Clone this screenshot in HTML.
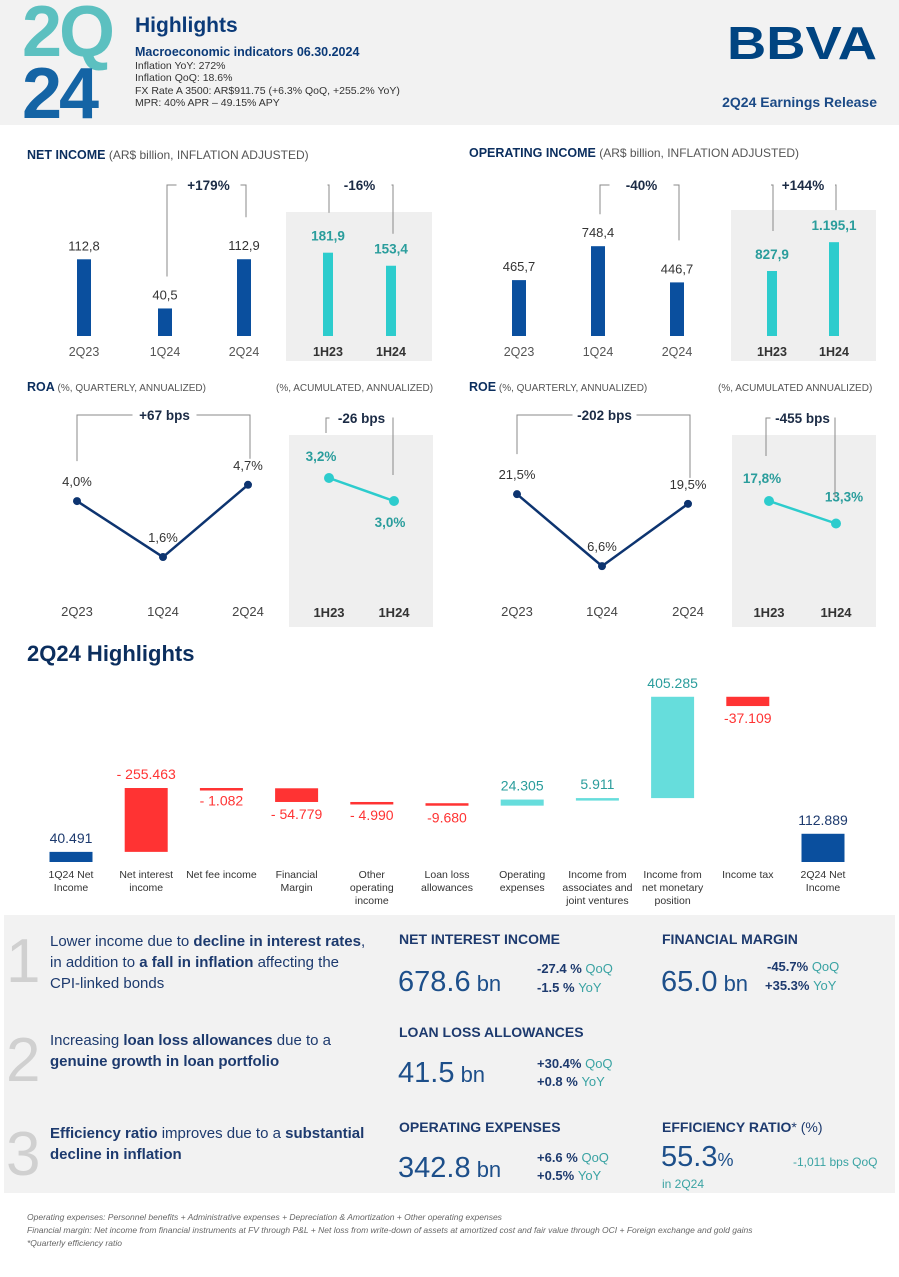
<!DOCTYPE html>
<html><head><meta charset="utf-8"><style>
html,body{margin:0;padding:0;background:#fff}
svg{display:block;font-family:"Liberation Sans",sans-serif}
</style></head><body>
<svg id="s" width="899" height="1277" viewBox="0 0 899 1277" xmlns="http://www.w3.org/2000/svg">
<rect x="0" y="0" width="899" height="125" fill="#f2f2f2"/>
<text x="22" y="56" font-size="72" font-weight="bold" fill="#5cc0c0" letter-spacing="-3">2Q</text>
<text x="22" y="118" font-size="72" font-weight="bold" fill="#1464a5" letter-spacing="-3">24</text>
<text x="135" y="32" font-size="21" font-weight="bold" fill="#0b3a78">Highlights</text>
<text x="135" y="56" font-size="12.5" font-weight="bold" fill="#0b3a78">Macroeconomic indicators 06.30.2024</text>
<g font-size="10.5" fill="#333">
<text x="135" y="69">Inflation YoY: 272%</text>
<text x="135" y="81">Inflation QoQ: 18.6%</text>
<text x="135" y="94">FX Rate A 3500: AR$911.75 (+6.3% QoQ, +255.2% YoY)</text>
<text x="135" y="106">MPR: 40% APR – 49.15% APY</text>
</g>
<text x="727" y="59" font-size="46" font-weight="bold" fill="#004481" textLength="150" lengthAdjust="spacingAndGlyphs">BBVA</text>
<text x="877" y="107" font-size="14" font-weight="bold" fill="#1b4a86" text-anchor="end">2Q24 Earnings Release</text>

<rect x="286" y="212" width="146" height="149" fill="#efefef"/>
<rect x="731" y="210" width="145" height="151" fill="#efefef"/>
<rect x="289" y="435" width="144" height="192" fill="#efefef"/>
<rect x="732" y="435" width="144" height="192" fill="#efefef"/>

<text x="27" y="159" font-size="12.5" fill="#0b2e5e"><tspan font-weight="bold">NET INCOME</tspan><tspan fill="#555" font-size="12"> (AR$ billion, INFLATION ADJUSTED)</tspan></text>
<text x="469" y="157" font-size="12.5" fill="#0b2e5e"><tspan font-weight="bold">OPERATING INCOME</tspan><tspan fill="#555" font-size="12"> (AR$ billion, INFLATION ADJUSTED)</tspan></text>
<text x="27" y="391" font-size="12.5" fill="#0b2e5e"><tspan font-weight="bold">ROA</tspan><tspan fill="#555" font-size="10"> (%, QUARTERLY, ANNUALIZED)</tspan></text>
<text x="276" y="391" font-size="10" fill="#555">(%, ACUMULATED, ANNUALIZED)</text>
<text x="469" y="391" font-size="12.5" fill="#0b2e5e"><tspan font-weight="bold">ROE</tspan><tspan fill="#555" font-size="10"> (%, QUARTERLY, ANNUALIZED)</tspan></text>
<text x="718" y="391" font-size="10" fill="#555">(%, ACUMULATED ANNUALIZED)</text>

<text x="27" y="661" font-size="22" font-weight="bold" fill="#0b2e5e">2Q24 Highlights</text>

<g id="charts"></g>

<rect x="4" y="915" width="891" height="278" fill="#f2f2f2"/>
<g font-size="62" fill="#d0d0d0">
<text x="6" y="982">1</text><text x="6" y="1081">2</text><text x="6" y="1175">3</text>
</g>
<g font-size="15" fill="#1d3a6e">
<text x="50" y="946">Lower income due to <tspan font-weight="bold">decline in interest rates</tspan>,</text>
<text x="50" y="967">in addition to <tspan font-weight="bold">a fall in inflation</tspan> affecting the</text>
<text x="50" y="988">CPI-linked bonds</text>
<text x="50" y="1045">Increasing <tspan font-weight="bold">loan loss allowances</tspan> due to a</text>
<text x="50" y="1066"><tspan font-weight="bold">genuine growth in loan portfolio</tspan></text>
<text x="50" y="1138"><tspan font-weight="bold">Efficiency ratio</tspan> improves due to a <tspan font-weight="bold">substantial</tspan></text>
<text x="50" y="1159"><tspan font-weight="bold">decline in inflation</tspan></text>
</g>
<g font-size="14" font-weight="bold" fill="#1d3a6e">
<text x="399" y="944">NET INTEREST INCOME</text>
<text x="662" y="944">FINANCIAL MARGIN</text>
<text x="399" y="1037">LOAN LOSS ALLOWANCES</text>
<text x="399" y="1132">OPERATING EXPENSES</text>
<text x="662" y="1132">EFFICIENCY RATIO<tspan font-weight="normal">* (%)</tspan></text>
</g>
<g fill="#1d4f8a">
<text x="398" y="991" font-size="29">678.6<tspan font-size="22"> bn</tspan></text>
<text x="661" y="991" font-size="29">65.0<tspan font-size="22"> bn</tspan></text>
<text x="398" y="1082" font-size="29">41.5<tspan font-size="22"> bn</tspan></text>
<text x="398" y="1177" font-size="29">342.8<tspan font-size="22"> bn</tspan></text>
<text x="661" y="1166" font-size="29">55.3<tspan font-size="18">%</tspan></text>
</g>
<g font-size="13" font-weight="bold" fill="#1d3a6e">
<text x="537" y="973">-27.4 % <tspan font-weight="normal" fill="#3aa3a3">QoQ</tspan></text>
<text x="537" y="992">-1.5 %  <tspan font-weight="normal" fill="#3aa3a3">YoY</tspan></text>
<text x="767" y="971">-45.7% <tspan font-weight="normal" fill="#3aa3a3">QoQ</tspan></text>
<text x="765" y="990">+35.3% <tspan font-weight="normal" fill="#3aa3a3">YoY</tspan></text>
<text x="537" y="1068">+30.4%  <tspan font-weight="normal" fill="#3aa3a3">QoQ</tspan></text>
<text x="537" y="1086">+0.8 %  <tspan font-weight="normal" fill="#3aa3a3">YoY</tspan></text>
<text x="537" y="1162">+6.6 %  <tspan font-weight="normal" fill="#3aa3a3">QoQ</tspan></text>
<text x="537" y="1180">+0.5%  <tspan font-weight="normal" fill="#3aa3a3">YoY</tspan></text>
<text x="793" y="1166" font-weight="normal" font-size="12" fill="#3aa3a3">-1,011 bps QoQ</text>
<text x="662" y="1188" font-weight="normal" font-size="12" fill="#3aa3a3">in 2Q24</text>
</g>
<g font-size="8.5" font-style="italic" fill="#666">
<text x="27" y="1220">Operating expenses: Personnel benefits + Administrative expenses + Depreciation &amp; Amortization + Other operating expenses</text>
<text x="27" y="1233">Financial margin: Net income from financial instruments at FV through P&amp;L + Net loss from write-down of assets at amortized cost and fair value through OCI + Foreign exchange and gold gains</text>
<text x="27" y="1246">*Quarterly efficiency ratio</text>
</g>
</svg>
<script>
const niQuarters = ["2Q23","1Q24","2Q24"];
const niQuarterValues = [112.8, 40.5, 112.9];
const niHalves = ["1H23","1H24"];
const niHalfValues = [181.9, 153.4];
const niChanges = ["+179%","-16%"];
const oiQuarterValues = [465.7, 748.4, 446.7];
const oiHalfValues = [827.9, 1195.1];
const oiChanges = ["-40%","+144%"];
const roaQuarterValues = [4.0, 1.6, 4.7];
const roaHalfValues = [3.2, 3.0];
const roaChanges = ["+67 bps","-26 bps"];
const roeQuarterValues = [21.5, 6.6, 19.5];
const roeHalfValues = [17.8, 13.3];
const roeChanges = ["-202 bps","-455 bps"];
const wfCategories = ["1Q24 Net|Income","Net interest|income","Net fee income","Financial|Margin","Other|operating|income","Loan loss|allowances","Operating|expenses","Income from|associates and|joint ventures","Income from|net monetary|position","Income tax","2Q24 Net|Income"];
const wfValues = [40.491, -255.463, -1.082, -54.779, -4.990, -9.680, 24.305, 5.911, 405.285, -37.109, 112.889];
const wfLabels = ["40.491","- 255.463","- 1.082","- 54.779","- 4.990","-9.680","24.305","5.911","405.285","-37.109","112.889"];

const NS="http://www.w3.org/2000/svg";
const root=document.getElementById('charts');
function el(tag,attrs,parent){const e=document.createElementNS(NS,tag);for(const k in attrs)e.setAttribute(k,attrs[k]);(parent||root).appendChild(e);return e;}
function txt(x,y,s,size,fill,weight,anchor,parent){const t=el('text',{x:x,y:y,'font-size':size,fill:fill,'font-weight':weight||'normal','text-anchor':anchor||'middle'},parent);t.textContent=s;return t;}
function fmt(v){return v.toFixed(1).replace('.',',');}
function fmtK(v){let s=v.toFixed(1);let [a,b]=s.split('.');if(a.length>3)a=a.slice(0,a.length-3)+'.'+a.slice(-3);return a+','+b;}
const BLUE="#0a4f9e", TEAL="#2dcccd", TEALTXT="#2a9d9c";

function bracket(x1,y1,x2,y2,top,label,cx,g){
  el('path',{d:`M${x1} ${y1} V${top} H${cx-32} M${cx+32} ${top} H${x2} V${y2}`,fill:'none',stroke:'#888','stroke-width':1},g);
  txt(cx,top+5,label,13.5,'#1b2b45','bold','middle',g);
}

function barPanel(name,qx,qVals,qScale,hx,hVals,hScale,changes,fmtf){
  const g=el('g',{});
  
  
  const base=336;
  const tops=[],htops=[];
  qVals.forEach((v,i)=>{
    const h=v*qScale;
    const r=el('rect',{x:qx[i]-7,y:base-h,width:14,height:h,fill:BLUE},g);
    
    
    txt(qx[i],base-h-9,fmtf(v),13,'#333','normal','middle',g);
    txt(qx[i],356,niQuarters[i],12.5,'#555','normal','middle',g);
    tops.push(base-h);
  });
  hVals.forEach((v,i)=>{
    const h=v*hScale;
    const r=el('rect',{x:hx[i]-5,y:base-h,width:10,height:h,fill:TEAL},g);
    
    
    txt(hx[i],base-h-12,fmtf(v),13.5,TEALTXT,'bold','middle',g);
    txt(hx[i],356,niHalves[i],12.5,'#333','bold','middle',g);
    htops.push(base-h);
  });
  bracket(qx[1]+2,tops[1]-32,qx[2]+2,tops[2]-42,185,changes[0],(qx[1]+qx[2])/2+4,g);
  bracket(hx[0]+1,htops[0]-40,hx[1]+2,htops[1]-32,185,changes[1],(hx[0]+hx[1])/2,g);
}
barPanel('net-income-chart',[84,165,244],niQuarterValues,0.68,[328,391],niHalfValues,0.458,niChanges,fmt);
barPanel('operating-income-chart',[519,598,677],oiQuarterValues,0.12,[772,834],oiHalfValues,0.0785,oiChanges,fmtK);

function linePanel(name,qx,qVals,qA,qB,hx,hVals,hA,hB,changes,hLabelPos){
  const g=el('g',{});
  
  
  const qy=v=>qA-qB*v, hy=v=>hA-hB*v;
  el('polyline',{points:qVals.map((v,i)=>qx[i]+','+qy(v)).join(' '),fill:'none',stroke:'#0d3470','stroke-width':2.5},g);
  qVals.forEach((v,i)=>{
    const c=el('circle',{cx:qx[i],cy:qy(v),r:4,fill:'#0d3470'},g);
    
    
    txt(qx[i],qy(v)-15,fmt(v)+'%',13,'#333','normal','middle',g);
    txt(qx[i],616,niQuarters[i],13,'#444','normal','middle',g);
  });
  el('polyline',{points:hVals.map((v,i)=>hx[i]+','+hy(v)).join(' '),fill:'none',stroke:TEAL,'stroke-width':2.5},g);
  hVals.forEach((v,i)=>{
    const c=el('circle',{cx:hx[i],cy:hy(v),r:5,fill:TEAL},g);
    
    
    const p=hLabelPos[i];
    txt(hx[i]+p[0],hy(v)+p[1],fmt(v)+'%',13.5,TEALTXT,'bold','middle',g);
    txt(hx[i],617,niHalves[i],13,'#333','bold','middle',g);
  });
  bracket(qx[0],qy(qVals[0])-40,qx[2]+2,qy(qVals[2])-26,415,changes[0],(qx[0]+qx[2])/2+2,g);
  bracket(hx[0]-3,hy(hVals[0])-45,hx[1]-1,hy(hVals[1])-26,418,changes[1],(hx[0]+hx[1])/2,g);
}
linePanel('roa-chart',[77,163,248],roaQuarterValues,594.3,23.3,[329,394],roaHalfValues,846,115,roaChanges,[[-8,-17],[-4,26]]);
linePanel('roe-chart',[517,602,688],roeQuarterValues,598,4.83,[769,836],roeHalfValues,590,5.0,roeChanges,[[-7,-18],[8,-22]]);

(function(){
  const g=el('g',{});
  
  
  const base=862, k=0.25, cx0=71, step=75.2, w=43;
  const y=v=>base-v*k;
  let level=0;
  wfValues.forEach((v,i)=>{
    const cx=cx0+i*step;
    let y1,y2,fill,lblColor,lblY;
    if(i===0||i===wfValues.length-1){
      y1=y(v);y2=base;fill=BLUE;lblColor='#1d3a6e';lblY=y1-9;level=v;
    } else if(i===1){
      const nl=level+Math.abs(v);y1=y(nl);y2=y(level);level=nl;fill='#ff3333';lblColor='#ff3333';lblY=y1-9;
    } else {
      const nl=level+v;y1=y(Math.max(nl,level));y2=y(Math.min(nl,level));level=nl;
      if(v<0){fill='#ff3333';lblColor='#ff3333';lblY=y2+17;}else{fill='#66dddc';lblColor='#2a9d9c';lblY=y1-9;}
    }
    const r=el('rect',{x:cx-w/2,y:y1,width:w,height:Math.max(y2-y1,2.5),fill:fill},g);
    
    
    txt(cx,lblY,wfLabels[i],14,lblColor,'normal','middle',g);
    wfCategories[i].split('|').forEach((ln,j)=>txt(cx,878+j*13,ln,10.5,'#333','normal','middle',g));
  });
})();
</script>
</body></html>
